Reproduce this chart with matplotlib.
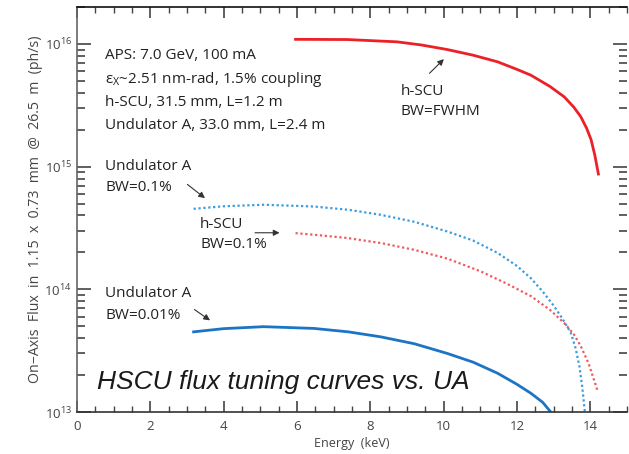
import numpy as np
import matplotlib
matplotlib.use('Agg')
from matplotlib import pyplot as plt
from matplotlib.ticker import LogLocator, MultipleLocator, NullFormatter

# h-SCU, BW=FWHM
hscu_fwhm_e = [5.96, 7.37, 8.73, 9.4, 10.1, 10.8, 11.47, 12.0, 12.38, 12.9, 13.29, 13.55, 13.74, 13.9, 14.02, 14.12, 14.22]
hscu_fwhm_f = [1.09e16, 1.086e16, 1.04e16, 9.8e15, 9.0e15, 8.1e15, 7.15e15, 6.2e15, 5.56e15, 4.5e15, 3.7e15,
               3.05e15, 2.55e15, 2.05e15, 1.66e15, 1.25e15, 8.7e14]

# Undulator A, BW=0.1%
ua01_e = [3.18, 4.0, 5.09, 6.46, 7.4, 8.28, 9.2, 10.1, 10.8, 11.47, 12.0, 12.38, 12.7, 13.01, 13.25, 13.47,
          13.6, 13.7, 13.78, 13.85]
ua01_f = [4.53e14, 4.75e14, 4.89e14, 4.73e14, 4.45e14, 4.05e14, 3.55e14, 2.96e14, 2.5e14, 1.98e14, 1.55e14,
          1.23e14, 9.6e13, 7.3e13, 5.7e13, 4.4e13, 3.3e13, 2.37e13, 1.6e13, 1.0e13]

# h-SCU, BW=0.1%
hscu01_e = [5.96, 6.6, 7.37, 8.3, 9.19, 10.1, 11.01, 11.7, 12.38, 12.9, 13.29, 13.55, 13.74, 13.95, 14.2]
hscu01_f = [2.87e14, 2.76e14, 2.62e14, 2.38e14, 2.10e14, 1.78e14, 1.40e14, 1.12e14, 8.8e13, 6.8e13, 5.3e13,
            4.3e13, 3.44e13, 2.5e13, 1.48e13]

# Undulator A, BW=0.01%
ua001_e = [3.18, 4.0, 5.09, 6.46, 7.4, 8.28, 9.2, 10.1, 10.8, 11.47, 12.0, 12.38, 12.7, 12.92]
ua001_f = [4.5e13, 4.78e13, 4.96e13, 4.8e13, 4.5e13, 4.1e13, 3.6e13, 3.0e13, 2.55e13, 2.07e13, 1.68e13,
           1.42e13, 1.2e13, 1.0e13]

red = '#ec2027'
blue = '#1b75c4'
blue_dot = '#3a9ce0'
red_dot = '#f05a5e'
grey = '#444444'

plt.rcParams['font.family'] = ['Open Sans', 'DejaVu Sans']

fig = plt.figure(figsize=(6.29, 4.54), dpi=100)
ax = fig.add_axes([77 / 629, 1 - 412 / 454, 550 / 629, 405 / 454])

ax.plot(hscu_fwhm_e, hscu_fwhm_f, color=red, lw=2)
ax.plot(ua01_e, ua01_f, color=blue_dot, lw=1.6, ls=(0, (1, 1.2)))
ax.plot(hscu01_e, hscu01_f, color=red_dot, lw=1.6, ls=(0, (1, 1.2)))
ax.plot(ua001_e, ua001_f, color=blue, lw=2)

ax.set_yscale('log')
ax.set_xlim(0, 15)
ax.set_ylim(1e13, 2e16)

ax.xaxis.set_major_locator(MultipleLocator(2))
ax.xaxis.set_minor_locator(MultipleLocator(0.5))
ax.yaxis.set_major_locator(LogLocator(base=10, numticks=10))
ax.yaxis.set_minor_locator(LogLocator(base=10, subs=np.arange(2, 10), numticks=20))
ax.yaxis.set_minor_formatter(NullFormatter())

ax.spines['right'].set_visible(False)
ax.spines['left'].set_color('#666666')
ax.spines['bottom'].set_color('#333333')
ax.spines['top'].set_color('#111111')
for s in ax.spines.values():
    s.set_linewidth(1.2)

ax.tick_params(axis='both', which='both', direction='in', top=True, right=True,
               colors=grey, labelsize=9.5)
ax.tick_params(axis='y', which='major', length=10, width=1.2)
ax.tick_params(axis='y', which='minor', length=6, width=1.2)
ax.tick_params(axis='x', which='major', length=8, width=1.2)
ax.tick_params(axis='x', which='minor', length=4, width=1.0)
ax.tick_params(axis='x', which='both', pad=6)

ax.set_xlabel('Energy  (keV)', fontsize=9, color=grey, labelpad=3)
ax.set_ylabel('On\u2212Axis  Flux  in  1.15  x  0.73  mm  @  26.5  m  (ph/s)',
              fontsize=10.2, color=grey, labelpad=1)

txt = dict(fontsize=11, color='#222222', va='center', ha='left')
ax.text(0.77, 8.1e15, 'APS: 7.0 GeV, 100 mA', **txt)
ax.text(0.77, 5.16e15, r'$\mathregular{\epsilon_X}$~2.51 nm-rad, 1.5% coupling', **txt)
ax.text(0.77, 3.36e15, 'h-SCU, 31.5 mm, L=1.2 m', **txt)
ax.text(0.77, 2.18e15, 'Undulator A, 33.0 mm, L=2.4 m', **txt)

ax.text(0.77, 1.0e15, 'Undulator A', **txt)
ax.text(0.77, 6.75e14, 'BW=0.1%', **txt)
ax.text(3.36, 3.4e14, 'h-SCU', **txt)
ax.text(3.36, 2.3e14, 'BW=0.1%', **txt)
ax.text(0.77, 9.2e13, 'Undulator A', **txt)
ax.text(0.77, 6.07e13, 'BW=0.01%', **txt)
ax.text(8.83, 4.1e15, 'h-SCU', **txt)
ax.text(8.83, 2.79e15, 'BW=FWHM', **txt)

arw = dict(arrowstyle='-|>', color='#333333', lw=0.8, mutation_scale=9)
ax.annotate('', xy=(3.55, 5.36e14), xytext=(2.95, 7.4e14), arrowprops=arw)
ax.annotate('', xy=(5.6, 2.89e14), xytext=(4.78, 2.89e14), arrowprops=arw)
ax.annotate('', xy=(3.69, 5.42e13), xytext=(3.14, 7.05e13), arrowprops=arw)
ax.annotate('', xy=(10.06, 7.8e15), xytext=(9.56, 5.56e15), arrowprops=arw)

ax.text(0.55, 1.75e13, 'HSCU flux tuning curves vs. UA', fontsize=19,
        style='italic', family=['Liberation Sans', 'DejaVu Sans'],
        color='#1a1a1a', va='center', ha='left')

fig.savefig('out.png', dpi=100)
